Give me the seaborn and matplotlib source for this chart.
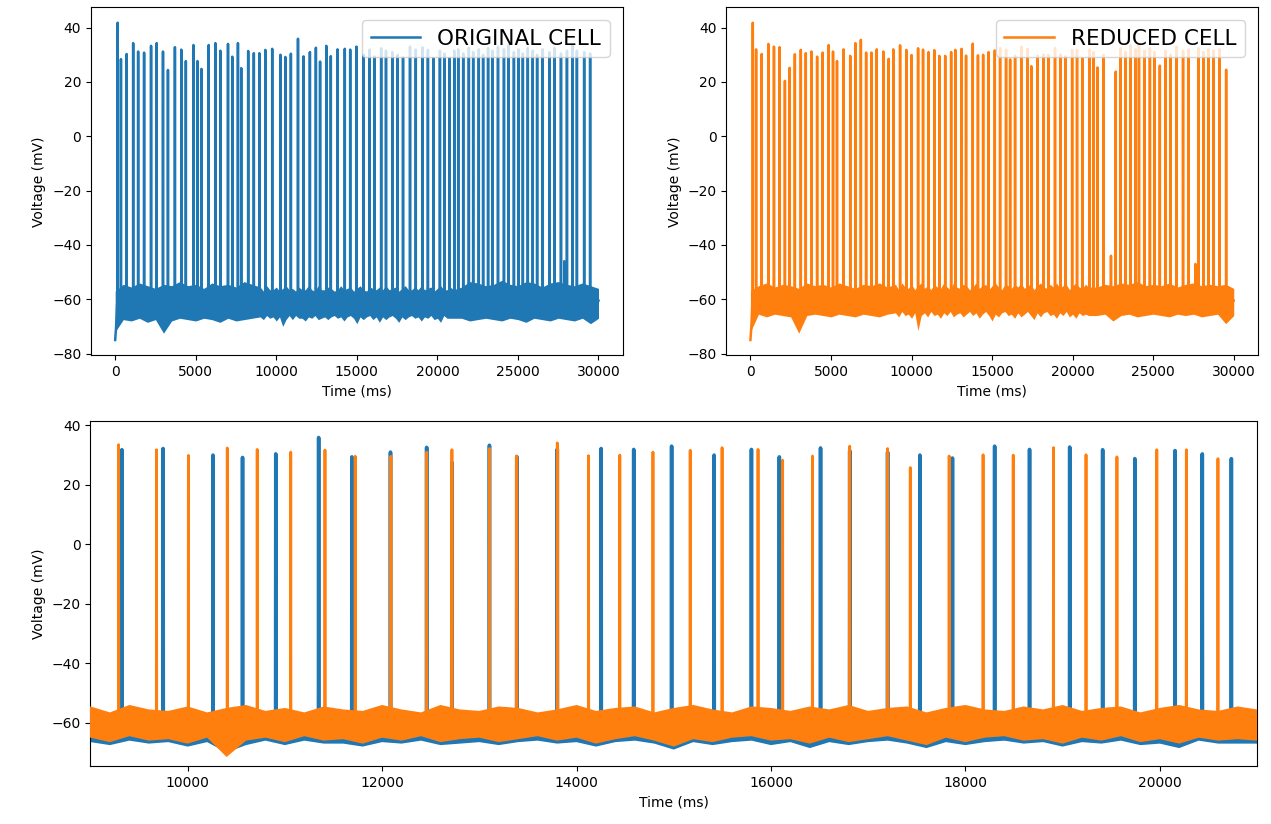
import numpy as np
import pandas as pd
import matplotlib
matplotlib.use("Agg")
import matplotlib.pyplot as plt
import seaborn as sns

# ---------------- data ----------------
# Spike times (ms) and peak voltages (mV)
orig_spike_t = [154, 358, 710, 1117, 1425, 1795, 2227, 2579, 2968, 3276,
                3708, 4103, 4387, 4862, 5109, 5356, 5806, 6219, 6528, 7003,
                7268, 7620, 7824, 8256, 8607, 8953,
                9323, 9747, 10260, 10564, 10906, 11347, 11689, 12086, 12458, 12718,
                13104, 13385, 13802, 14253, 14588, 14978, 15415, 15799, 16086, 16510,
                16810, 17200, 17532, 17867, 18301, 18660, 19073, 19412, 19743, 20157,
                20437, 20736,
                21046, 21293, 21602, 21953, 22221, 22570, 22838, 23146, 23414, 23762,
                24132, 24420, 24750, 25037, 25305, 25613, 25921, 26190, 26540, 26951,
                27260, 27671, 27876, 28042, 28392, 28660, 29110, 29480]
orig_spike_v = [41.8, 28.4, 30.3, 34.3, 31.2, 30.8, 33.3, 34.3, 31.2, 24.4,
                32.8, 31.9, 27.7, 33.6, 27.7, 24.8, 33.6, 34.3, 31.5, 34.0,
                29.3, 34.3, 25.1, 31.4, 30.6, 30.6,
                31.8, 32.2, 30.0, 29.2, 30.4, 35.9, 29.4, 31.0, 32.6, 27.5,
                33.3, 29.5, 32.0, 32.2, 31.9, 33.0, 30.0, 31.9, 29.4, 32.4,
                31.5, 31.0, 30.0, 29.0, 33.0, 31.9, 32.7, 31.8, 28.8, 31.5,
                30.4, 28.8,
                31.5, 32.0, 30.5, 32.5, 31.0, 32.0, 30.0, 32.5, 31.5, 33.0,
                32.0, 33.5, 31.0, 32.0, 30.5, 32.5, 31.5, 30.0, 32.0, 31.0,
                32.5, 30.5, -46.0, 31.5, 33.5, 31.5, 31.0, 30.5]

red_spike_t = [148, 352, 703, 1117, 1462, 1814, 2141, 2431, 2758, 3128,
               3437, 3788, 4140, 4486, 4856, 5127, 5374, 5781, 6195, 6522,
               6855, 7182, 7509, 7842, 8249, 8582, 8866,
               9289, 9679, 10007, 10407, 10715, 11060, 11412, 11723, 12090, 12458,
               12718, 13104, 13385, 13802, 14123, 14445, 14786, 15169, 15497, 15867,
               16120, 16427, 16810, 17200, 17433, 17833, 18182, 18492, 18906, 19241,
               19559, 19969, 20273, 20598,
               21040, 21300, 21546, 21916, 22380, 22677, 22986, 23294, 23603, 23911,
               24117, 24467, 24796, 25084, 25413, 25762, 26071, 26441, 26853, 27203,
               27622, 27820, 28129, 28437, 28746, 29117, 29528]
red_spike_v = [41.8, 32.0, 30.3, 34.0, 33.0, 32.8, 20.4, 25.2, 30.2, 31.8,
               30.6, 31.2, 29.3, 30.8, 33.6, 31.2, 27.7, 32.0, 29.6, 34.3,
               35.5, 30.8, 30.8, 32.0, 31.2, 28.5, 32.0,
               33.5, 31.8, 29.9, 32.4, 31.9, 31.0, 31.7, 29.6, 29.6, 31.0,
               31.8, 32.2, 29.7, 34.1, 29.8, 30.0, 31.0, 31.6, 32.5, 31.9,
               28.3, 29.7, 33.0, 32.2, 25.8, 29.7, 30.1, 30.0, 32.5, 30.1,
               29.4, 31.8, 31.8, 28.8,
               32.0, 31.0, 25.3, 30.0, -44.0, 23.8, 32.5, 31.0, 33.5, 32.0,
               34.0, 31.5, 32.5, 31.0, 26.0, 31.5, 30.0, 33.0, 31.5, 32.0,
               -47.0, 32.5, 31.0, 32.0, 31.5, 32.0, 24.5]

# onset transient at the start of the simulation
onset_t = [0, 60, 120]
onset_v = [-75.0, -70.0, -62.0]
rest_v = -60.5

# Sub-threshold noise envelope, sampled every 500 ms from 0 to 30000 ms
env_t = list(range(0, 30001, 500))
orig_upper = [-57.0, -54.5, -55.5, -54.0, -55.0, -56.0, -54.5, -55.0, -53.5, -55.0,
              -54.5, -56.0, -54.0, -55.0, -54.5, -55.5, -53.5, -54.5, -55.0, -55.5,
              -54.5, -56.0, -55.0, -53.5, -55.0, -54.5, -56.0, -54.0, -55.0, -54.5,
              -55.0, -53.5, -55.5, -54.5, -55.0, -54.0, -56.0, -54.5, -55.0, -54.0,
              -53.5, -55.0, -54.5, -55.5, -53.5, -54.0, -55.0, -54.5, -53.0, -54.5,
              -55.0, -53.5, -54.0, -55.5, -54.0, -53.5, -54.5, -55.0, -54.0, -55.0,
              -56.0]
orig_lower = [-72.0, -67.5, -68.0, -67.0, -68.5, -67.5, -72.5, -68.0, -67.0, -67.5,
              -68.0, -67.0, -67.5, -68.5, -67.0, -68.0, -67.5, -67.0, -68.0, -67.5,
              -67.0, -72.5, -68.0, -67.5, -67.0, -68.0, -67.5, -67.0, -67.5, -68.0,
              -67.0, -67.5, -68.0, -67.0, -67.5, -67.5, -68.0, -67.0, -67.5, -68.0,
              -67.0, -68.0, -67.5, -67.0, -68.0, -67.5, -67.0, -67.5, -68.0, -67.0,
              -67.5, -68.5, -67.0, -67.5, -68.0, -67.0, -67.5, -68.0, -67.0, -69.0,
              -67.0]
red_upper = [-57.0, -55.0, -54.0, -55.5, -54.5, -55.0, -56.0, -54.0, -55.0, -54.5,
             -55.5, -54.0, -55.0, -56.0, -54.5, -55.0, -54.0, -55.5, -54.5, -55.0,
             -54.0, -55.5, -55.0, -54.0, -55.5, -54.5, -55.0, -54.0, -55.5, -54.5,
             -55.0, -54.0, -55.0, -54.5, -55.5, -54.0, -55.0, -54.5, -54.0, -55.5,
             -54.5, -55.0, -54.0, -55.5, -54.5, -55.0, -54.0, -54.5, -53.5, -55.0,
             -54.5, -55.0, -54.0, -55.5, -54.5, -54.0, -55.0, -54.5, -55.0, -54.5,
             -56.0]
red_lower = [-72.0, -65.5, -66.5, -65.5, -66.0, -66.5, -72.5, -66.0, -65.5, -66.0,
             -66.5, -65.5, -66.0, -66.5, -65.5, -66.0, -66.5, -65.5, -66.0, -66.5,
             -65.5, -71.5, -66.0, -65.5, -66.0, -66.5, -65.5, -66.0, -66.5, -65.5,
             -68.0, -66.0, -65.5, -66.5, -66.0, -65.5, -66.5, -66.0, -65.5, -66.0,
             -66.0, -65.5, -66.5, -66.0, -65.5, -68.0, -66.0, -65.5, -66.5, -66.0,
             -65.5, -66.0, -66.5, -65.5, -66.0, -65.5, -66.5, -66.0, -65.5, -69.0,
             -66.0]

# Finer envelope read from the zoomed (bottom) view, every 200 ms, 9000..21000 ms
fine_t = list(range(9000, 21001, 200))
orig_upper_fine = [-55.5, -57.0, -55.0, -56.5, -56.5, -55.5, -57.0, -56.0, -55.0, -56.5,
                   -56.0, -57.0, -55.5, -56.5, -56.5, -55.0, -56.5, -57.0, -55.0, -56.5,
                   -56.5, -55.5, -56.0, -57.0, -56.5, -55.0, -56.5, -56.0, -55.5, -57.0,
                   -56.0, -55.0, -56.5, -57.0, -55.5, -56.0, -56.5, -55.5, -56.5, -55.0,
                   -56.5, -56.0, -55.5, -57.0, -56.0, -55.0, -56.5, -56.5, -55.5, -56.5,
                   -55.0, -56.5, -56.0, -55.5, -57.0, -56.0, -55.0, -56.5, -56.5, -55.5,
                   -56.5]
orig_lower_fine = [-66.5, -67.5, -66.0, -67.0, -66.5, -68.0, -66.5, -70.0, -67.5, -66.0,
                   -67.5, -66.0, -67.0, -67.0, -68.0, -66.5, -67.0, -66.0, -67.5, -67.0,
                   -66.5, -67.5, -66.5, -66.0, -67.0, -66.5, -68.0, -66.5, -66.0, -67.0,
                   -69.0, -66.5, -67.5, -66.5, -66.0, -67.5, -66.5, -68.5, -66.5, -67.5,
                   -66.5, -66.0, -67.0, -68.5, -66.5, -67.5, -66.5, -66.0, -67.0, -66.5,
                   -68.0, -66.5, -67.0, -66.0, -67.5, -67.0, -68.5, -66.0, -67.0, -67.0,
                   -67.0]
red_upper_fine = [-54.5, -56.5, -54.0, -55.5, -56.0, -54.5, -56.5, -55.0, -54.0, -56.0,
                  -55.0, -56.5, -54.5, -55.5, -56.0, -54.0, -55.5, -56.5, -54.0, -55.5,
                  -56.0, -54.5, -55.0, -56.5, -55.5, -54.0, -56.0, -55.0, -54.5, -56.5,
                  -55.0, -54.0, -55.5, -56.5, -54.5, -55.0, -56.0, -54.5, -55.5, -54.0,
                  -56.0, -55.0, -54.5, -56.5, -55.0, -54.0, -55.5, -56.0, -54.5, -55.5,
                  -54.0, -56.0, -55.0, -54.5, -56.5, -55.0, -54.0, -55.5, -56.0, -54.5,
                  -55.5]
red_lower_fine = [-65.0, -66.5, -64.5, -66.0, -65.5, -67.0, -65.0, -71.5, -66.0, -65.0,
                  -66.5, -64.5, -66.0, -65.5, -67.0, -65.0, -66.0, -64.5, -66.5, -65.5,
                  -65.0, -66.5, -65.5, -64.5, -66.0, -65.0, -67.0, -65.5, -64.5, -66.0,
                  -68.0, -65.5, -66.5, -65.0, -64.5, -66.0, -65.5, -67.0, -65.0, -66.5,
                  -65.5, -64.5, -66.0, -67.5, -65.0, -66.5, -65.0, -64.5, -66.0, -65.5,
                  -67.0, -65.0, -66.0, -64.5, -66.5, -65.5, -67.0, -65.0, -66.0, -65.5,
                  -66.0]

BLUE = "#1f77b4"
ORANGE = "#ff7f0e"


def build_trace(spike_t, spike_v):
    t = list(onset_t)
    v = list(onset_v)
    for st, sv in zip(spike_t, spike_v):
        t += [st - 2, st, st + 2]
        v += [rest_v, sv, rest_v]
    t.append(env_t[-1])
    v.append(rest_v)
    return pd.DataFrame({"Time (ms)": t, "Voltage (mV)": v})


orig_df = build_trace(orig_spike_t, orig_spike_v)
red_df = build_trace(red_spike_t, red_spike_v)

coarse = pd.DataFrame({"t": env_t, "ou": orig_upper, "ol": orig_lower,
                       "ru": red_upper, "rl": red_lower})
fine = pd.DataFrame({"t": fine_t, "ou": orig_upper_fine, "ol": orig_lower_fine,
                     "ru": red_upper_fine, "rl": red_lower_fine})
env_df = pd.concat([coarse[coarse["t"] < fine_t[0]], fine,
                    coarse[coarse["t"] > fine_t[-1]]]).sort_values("t")

fig = plt.figure(figsize=(12.71, 8.24), dpi=100)
ax1 = fig.add_axes([0.0716, 0.5686, 0.4183, 0.4226])
ax2 = fig.add_axes([0.5714, 0.5686, 0.4183, 0.4226])
ax3 = fig.add_axes([0.0712, 0.0701, 0.9178, 0.4184])


def draw_cell(ax, df, up, lo, color, lw, z, label=None):
    ax.fill_between(env_df["t"], env_df[lo], env_df[up], color=color, lw=0,
                    zorder=z)
    sns.lineplot(data=df, x="Time (ms)", y="Voltage (mV)", sort=False,
                 estimator=None, color=color, lw=lw, label=label, ax=ax,
                 zorder=z + 0.5)


draw_cell(ax1, orig_df, "ou", "ol", BLUE, 1.8, 2, "ORIGINAL CELL")
draw_cell(ax2, red_df, "ru", "rl", ORANGE, 1.8, 2, "REDUCED CELL")
draw_cell(ax3, orig_df, "ou", "ol", BLUE, 2.6, 2)
draw_cell(ax3, red_df, "ru", "rl", ORANGE, 2.0, 3)

for ax in (ax1, ax2):
    ax.set_xlim(-1500, 31500)
    ax.set_ylim(-80.7, 47.5)
    ax.set_xticks([0, 5000, 10000, 15000, 20000, 25000, 30000])
    ax.set_yticks([-80, -60, -40, -20, 0, 20, 40])
    leg = ax.legend(loc="upper right", fontsize=15.5, handlelength=2.3,
                    borderaxespad=0.6)
    leg.set_zorder(10)

ax3.set_xlim(9000, 21000)
ax3.set_ylim(-74.6, 41.3)
ax3.set_xticks([10000, 12000, 14000, 16000, 18000, 20000])
ax3.set_yticks([-60, -40, -20, 0, 20, 40])
if ax3.get_legend() is not None:
    ax3.get_legend().remove()

for ax in (ax1, ax2, ax3):
    ax.set_xlabel("Time (ms)")
    ax.set_ylabel("Voltage (mV)")

fig.savefig("out.png", dpi=100)
